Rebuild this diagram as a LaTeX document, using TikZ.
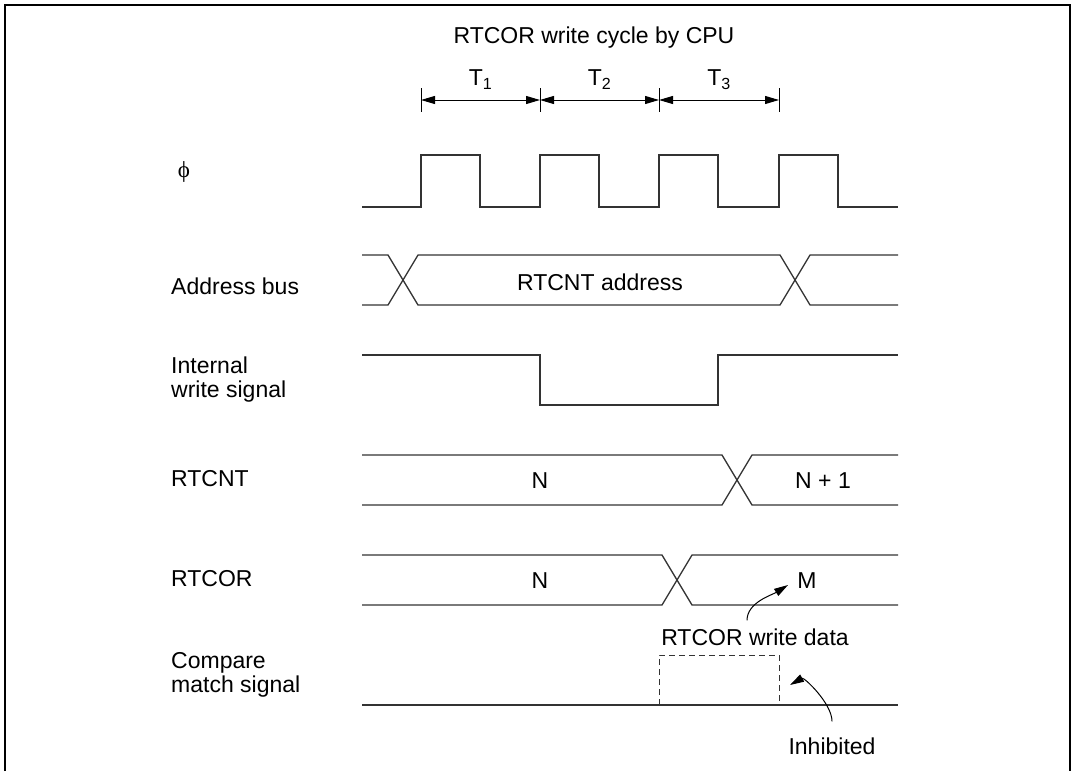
\documentclass[tikz,border=0pt]{standalone}
\usepackage{fontspec}
\setmainfont{Liberation Sans}
\newfontfamily\phifont{Liberation Serif}
\usetikzlibrary{arrows.meta,positioning}

\begin{document}
\begin{tikzpicture}[x=1pt,y=-1pt,
    wave/.style={line width=1.3pt,black!80},
    txt/.style={inner sep=0pt,font=\fontsize{23}{24}\selectfont},
    sig/.style={txt,anchor=west,align=left},
    tip/.style={-{Triangle[length=14pt,width=8pt]},line width=1pt},
    span/.style={{Triangle[length=14pt,width=8pt]}-{Triangle[length=14pt,width=8pt]},line width=1pt}]
  \useasboundingbox (0,0) rectangle (1075,771);
  \draw[line width=2.6pt] (5,771) -- (5,5) -- (1070,5) -- (1070,771);

  % cycle marks
  \node[txt] (title) at (594,38) {RTCOR write cycle by CPU};
  \foreach \n/\x in {0/421,1/540,2/659,3/779}{
    \coordinate (t\n) at (\x,100);
    \draw[line width=1pt] (\x,88) -- (\x,112);
  }
  \draw[span] (t0) -- (t1) node[txt,midway,above=10pt] (T1) {T\textsubscript{1}};
  \draw[span] (t1) -- (t2) node[txt,midway,above=10pt] (T2) {T\textsubscript{2}};
  \draw[span] (t2) -- (t3) node[txt,midway,above=10pt] (T3) {T\textsubscript{3}};

  % signal names
  \node[txt,font=\fontsize{23}{24}\phifont] (phi) at (184,172) {ϕ};
  \node[sig] (abus) at (171,286) {Address bus};
  \node[sig] (wsig) at (171,380) {Internal\\write signal};
  \node[sig] (cnt) at (171,479) {RTCNT};
  \node[sig] (cor) at (171,579) {RTCOR};
  \node[sig] (cmp) at (171,675) {Compare\\match signal};

  % clock
  \draw[wave] (362,207) \foreach \r in {421,540,659,779}{ -- (\r,207) -- (\r,155) -- (\r+59,155) -- (\r+59,207) } -- (898,207);

  % address bus
  \draw[wave] (362,255) -- (388,255) -- (418,305) -- (780,305) -- (810,255) -- (898,255);
  \draw[wave] (362,305) -- (388,305) -- (418,255) -- (780,255) -- (810,305) -- (898,305);
  \node[txt] (adr) at (600,282) {RTCNT address};

  % write signal
  \draw[wave] (362,355) -- (540,355) -- (540,405) -- (718,405) -- (718,355) -- (898,355);

  % RTCNT
  \draw[wave] (362,455) -- (722,455) -- (752,505) -- (898,505);
  \draw[wave] (362,505) -- (722,505) -- (752,455) -- (898,455);
  \node[txt] (cntN) at (540,481) {N};
  \node[txt] (cntN1) at (823,481) {N + 1};

  % RTCOR
  \draw[wave] (362,555) -- (662,555) -- (692,605) -- (898,605);
  \draw[wave] (362,605) -- (662,605) -- (692,555) -- (898,555);
  \node[txt] (corN) at (540,581) {N};
  \node[txt] (corM) at (807,581) {M};

  % compare match
  \draw[wave] (362,705) -- (898,705);
  \draw[line width=1pt,black!80,dash pattern=on 6pt off 4pt] (659,705) -- (659,655) -- (779,655) -- (779,705);

  \node[txt] (wdata) at (755,637) {RTCOR write data};
  \coordinate (mtip) at (788,585);
  \draw[tip] ([xshift=-8pt,yshift=8pt]wdata.north) .. controls +(0,-18) and +(-16,10) .. (mtip);

  \node[txt] (inh) at (832,746) {Inhibited};
  \coordinate (itip) at (790,685);
  \draw[tip] ([yshift=16pt]inh.north) .. controls +(0,-18) and +(14,-8) .. (itip);
\end{tikzpicture}
\end{document}
